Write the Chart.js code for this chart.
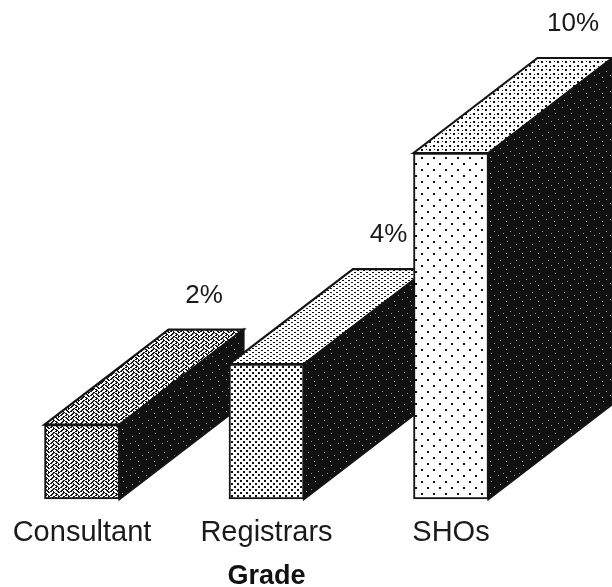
<!DOCTYPE html>
<html>
<head>
<meta charset="utf-8">
<script src="https://cdn.jsdelivr.net/npm/chart.js@4.4.0/dist/chart.umd.min.js"></script>
<style>
  html, body { margin: 0; padding: 0; background: #fff; }
  canvas { display: block; }
</style>
</head>
<body>
<canvas id="chart" width="612" height="587"></canvas>
<script>
// values
const grades = ['Consultant', 'Registrars', 'SHOs'];
const rates = [2.15, 3.9, 10];
const rateLabels = ['2%', '4%', '10%'];
const axisTitle = 'Grade';

const FONT = '"Liberation Sans", Arial, Helvetica, sans-serif';
const DEPTH_X = 124, DEPTH_Y = -95;
const INK = '#141414';

// small bitmap tiles -> canvas patterns
function tile(rows, fg, bg) {
	const h = rows.length, w = rows[0].length;
	const c = document.createElement('canvas');
	c.width = w; c.height = h;
	const g = c.getContext('2d');
	g.fillStyle = bg;
	g.fillRect(0, 0, w, h);
	for (let y = 0; y < h; y++) {
		for (let x = 0; x < w; x++) {
			const ch = rows[y][x];
			if (ch === 'X') {
				g.fillStyle = fg;
				g.fillRect(x, y, 1, 1);
			} else if (ch === 'o') {
				g.fillStyle = '#9a9a9a';
				g.fillRect(x, y, 1, 1);
			}
		}
	}
	return g.createPattern(c, 'repeat');
}

const weave = tile([
	'...XX...XX',
	'..XX.XX.X.',
	'.XX...XX..',
	'XX.X...XX.',
	'...XX...XX',
	'..XX.XX...',
	'.XX...XX..',
	'XX...XX.X.'
], INK, '#fff');

const dotsFront = tile([
	'XX....',
	'XX....',
	'......',
	'...XX.',
	'...XX.',
	'......'
], INK, '#fff');

const dotsTop = tile([
	'XX....',
	'......',
	'...XX.',
	'......'
], INK, '#fff');

const sparseFront = tile([
	'............',
	'.XX.........',
	'.XX.........',
	'............',
	'............',
	'............',
	'............',
	'.......XX...',
	'.......XX...',
	'............',
	'............',
	'............'
], INK, '#fff');

const sparseTop = tile([
	'........',
	'.XX.....',
	'.XX...X.',
	'........',
	'........',
	'..X..XX.',
	'.....XX.',
	'........'
], INK, '#fff');

const dark = tile([
	'................',
	'...........o....',
	'................',
	'................',
	'....o...........',
	'................',
	'................',
	'..............o.',
	'................',
	'.......o........',
	'................',
	'..o.............',
	'................',
	'..........o.....',
	'................',
	'................'
], '#000', '#111');

const frontFills = [weave, dotsFront, sparseFront];
const topFills = [weave, dotsTop, sparseTop];

function face(ctx, pts, fill) {
	ctx.beginPath();
	ctx.moveTo(pts[0][0], pts[0][1]);
	for (let i = 1; i < pts.length; i++) ctx.lineTo(pts[i][0], pts[i][1]);
	ctx.closePath();
	ctx.fillStyle = fill;
	ctx.fill();
	ctx.lineWidth = 2.2;
	ctx.lineJoin = 'miter';
	ctx.strokeStyle = INK;
	ctx.stroke();
}

// draws each block as top + side + front, left to right so later blocks overlap
const boxes = {
	id: 'boxes',
	beforeDatasetDraw() { return false; },
	afterDatasetsDraw(chart) {
		const ctx = chart.ctx;
		const bars = chart.getDatasetMeta(0).data;
		ctx.save();
		bars.forEach((bar, i) => {
			const p = bar.getProps(['x', 'y', 'base', 'width'], true);
			const L = p.x - p.width / 2, R = p.x + p.width / 2;
			const T = p.y, B = p.base;
			face(ctx, [[L, T], [L + DEPTH_X, T + DEPTH_Y], [R + DEPTH_X, T + DEPTH_Y], [R, T]], topFills[i]);
			face(ctx, [[R, T], [R + DEPTH_X, T + DEPTH_Y], [R + DEPTH_X, B + DEPTH_Y], [R, B]], dark);
			bar.draw(ctx);
			ctx.fillStyle = '#1a1a1a';
			ctx.font = '26px ' + FONT;
			ctx.textAlign = 'center';
			ctx.textBaseline = 'middle';
			ctx.fillText(rateLabels[i], p.x + DEPTH_X - 2, T + DEPTH_Y - 34);
		});
		ctx.restore();
	}
};

new Chart(document.getElementById('chart'), {
	type: 'bar',
	data: {
		labels: grades,
		datasets: [{
			data: rates,
			backgroundColor: frontFills,
			borderColor: INK,
			borderWidth: 2,
			borderSkipped: false,
			barThickness: 75
		}]
	},
	options: {
		responsive: false,
		animation: false,
		events: [],
		layout: { padding: { left: 82, right: 161, top: 153, bottom: 0 } },
		plugins: { legend: { display: false }, tooltip: { enabled: false } },
		scales: {
			x: {
				offset: false,
				grid: { display: true, color: 'transparent', drawOnChartArea: false, drawTicks: true, tickLength: 19 },
				border: { display: false },
				ticks: {
					color: '#1a1a1a',
					padding: 0,
					autoSkip: false,
					maxRotation: 0,
					font: { family: FONT, size: 29, lineHeight: 1 }
				},
				title: {
					display: true,
					text: axisTitle,
					color: '#111',
					padding: { top: 16, bottom: -3 },
					font: { family: FONT, size: 27, weight: 'bold', lineHeight: 1 }
				}
			},
			y: { display: false, min: 0, max: 10 }
		}
	},
	plugins: [boxes]
});
</script>
</body>
</html>
